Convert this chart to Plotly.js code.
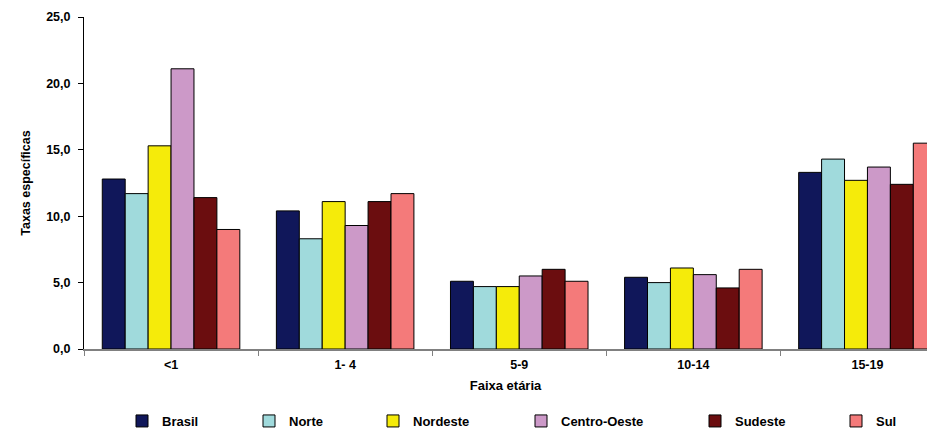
<!DOCTYPE html>
<html>
<head>
<meta charset="utf-8">
<script src="https://cdn.plot.ly/plotly-3.0.1.min.js"></script>
<style>html,body{margin:0;padding:0;background:#fff;}#chart{width:927px;height:430px;}</style>
</head>
<body>
<div id="chart"></div>
<script>
const categories = ["<1", "1- 4", "5-9", "10-14", "15-19"];
const brasil = [12.8, 10.4, 5.1, 5.4, 13.3];
const norte = [11.7, 8.3, 4.7, 5.0, 14.3];
const nordeste = [15.3, 11.1, 4.7, 6.1, 12.7];
const centroOeste = [21.1, 9.3, 5.5, 5.6, 13.7];
const sudeste = [11.4, 11.1, 6.0, 4.6, 12.4];
const sul = [9.0, 11.7, 5.1, 6.0, 15.5];
const seriesNames = ["Brasil", "Norte", "Nordeste", "Centro-Oeste", "Sudeste", "Sul"];
const seriesValues = [brasil, norte, nordeste, centroOeste, sudeste, sul];
const colors = ["#10175A", "#A0DADC", "#F5EB0A", "#CC99C8", "#6B0D0F", "#F47A7A"];
const legendTextPx = [162, 289, 413, 561, 735, 876];

const FONT = "Liberation Sans, Arial, sans-serif";
const plotLeft = 84, plotWidth = 843;

const traces = seriesNames.map((n, i) => ({
  type: "bar",
  name: n,
  x: categories,
  y: seriesValues[i],
  marker: {color: colors[i], line: {color: "#000", width: 1}},
  legend: i === 0 ? "legend" : "legend" + (i + 1),
  hoverinfo: "none"
}));

const layout = {
  width: 927, height: 430,
  margin: {l: plotLeft, r: 0, t: 17, b: 81, autoexpand: false},
  paper_bgcolor: "#fff", plot_bgcolor: "#fff",
  font: {family: FONT, size: 12.5, color: "#000", weight: "bold"},
  separators: ",.",
  barmode: "group",
  bargap: 0.21,
  bargroupgap: 0,
  xaxis: {
    type: "category",
    range: [-0.5, -0.5 + plotWidth / 174.1],
    showline: true, linecolor: "#808080", linewidth: 2,
    ticks: "outside", tickson: "boundaries", ticklen: 5, tickcolor: "#808080",
    ticklabelstandoff: 3,
    tickfont: {family: FONT, size: 12.5, weight: "bold"},
    showgrid: false, zeroline: false,
    title: {text: "Faixa etária", font: {family: FONT, size: 13, weight: "bold"}, standoff: 10}
  },
  yaxis: {
    range: [0, 25],
    tickvals: [0, 5, 10, 15, 20, 25],
    tickformat: ".1f",
    showline: true, linecolor: "#000", linewidth: 1,
    ticks: "outside", ticklen: 5, tickcolor: "#000",
    ticklabelstandoff: 5,
    tickfont: {family: FONT, size: 12.5, weight: "bold"},
    showgrid: false, zeroline: false,
    title: {text: "Taxas específicas", font: {family: FONT, size: 12.5, weight: "bold"}, standoff: 12}
  },
  showlegend: true
};

legendTextPx.forEach((px, i) => {
  const key = i === 0 ? "legend" : "legend" + (i + 1);
  layout[key] = {
    x: (px - 40 - plotLeft) / plotWidth,
    y: (349 - 421) / 332,
    xanchor: "left", yanchor: "middle",
    orientation: "h",
    bgcolor: "rgba(0,0,0,0)",
    font: {family: FONT, size: 13, weight: "bold", color: "#000"}
  };
});

Plotly.newPlot("chart", traces, layout, {displayModeBar: false, staticPlot: true});
</script>
</body>
</html>
